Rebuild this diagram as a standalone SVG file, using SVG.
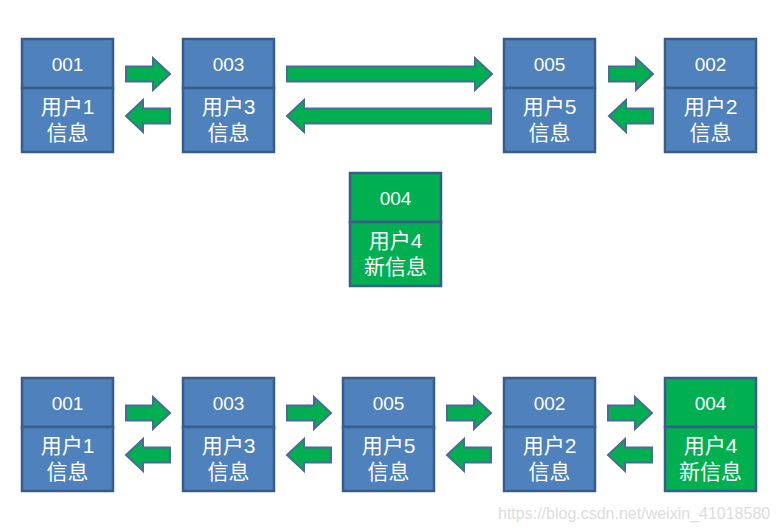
<svg xmlns="http://www.w3.org/2000/svg" width="779" height="530" viewBox="0 0 779 530">
<style>
.b{fill:#4F81BD;stroke:#385D8A;stroke-width:2.5}
.g{fill:#00B050;stroke:#385D8A;stroke-width:2.5}
.t{font-family:"Liberation Sans","Noto Sans CJK SC",sans-serif;fill:#fff;text-anchor:middle}
.id{font-size:19px}
.lb{font-size:21px}
.a{fill:#00B050;stroke:#4A6A9A;stroke-width:2;stroke-linejoin:miter}
.wm{font-family:"Liberation Sans",sans-serif;font-size:16px;fill:#DDDDDD}
</style>
<defs>
<path id="ar" class="a" d="M0,-7.5 H27 V-16 L44,0 L27,16 V7.5 H0 Z"/>
<path id="al" class="a" d="M44,-7.5 H17 V-16 L0,0 L17,16 V7.5 H44 Z"/>
</defs>
<rect width="779" height="530" fill="#fff"/>
<g id="connectors">
<use href="#ar" x="126" y="74"/>
<use href="#al" x="126" y="116"/>
<path class="a" d="M287,66.5 H475 V58 L492,74 L475,90 V81.5 H287 Z"/>
<path class="a" d="M491,108.5 H304 V100 L287,116 L304,132 V123.5 H491 Z"/>
<use href="#ar" x="609" y="74"/>
<use href="#al" x="609" y="116"/>
<use href="#ar" x="126" y="413"/>
<use href="#al" x="126" y="455"/>
<use href="#ar" x="287" y="413"/>
<use href="#al" x="287" y="455"/>
<use href="#ar" x="447" y="413"/>
<use href="#al" x="447" y="455"/>
<use href="#ar" x="608" y="413"/>
<use href="#al" x="608" y="455"/>
</g>
<g id="t001">
<rect class="b" x="22" y="39" width="91" height="49"/><rect class="b" x="22" y="88" width="91" height="64"/>
<text class="t id" x="67.5" y="71">001</text><text class="t lb" x="67.5" y="114">用户1</text><text class="t lb" x="67.5" y="140">信息</text>
</g>
<g id="t003">
<rect class="b" x="183" y="39" width="91" height="49"/><rect class="b" x="183" y="88" width="91" height="64"/>
<text class="t id" x="228.5" y="71">003</text><text class="t lb" x="228.5" y="114">用户3</text><text class="t lb" x="228.5" y="140">信息</text>
</g>
<g id="t005">
<rect class="b" x="504" y="39" width="91" height="49"/><rect class="b" x="504" y="88" width="91" height="64"/>
<text class="t id" x="549.5" y="71">005</text><text class="t lb" x="549.5" y="114">用户5</text><text class="t lb" x="549.5" y="140">信息</text>
</g>
<g id="t002">
<rect class="b" x="665" y="39" width="91" height="49"/><rect class="b" x="665" y="88" width="91" height="64"/>
<text class="t id" x="710.5" y="71">002</text><text class="t lb" x="710.5" y="114">用户2</text><text class="t lb" x="710.5" y="140">信息</text>
</g>
<g id="m004">
<rect class="g" x="350" y="173" width="91" height="49"/><rect class="g" x="350" y="222" width="91" height="64"/>
<text class="t id" x="395.5" y="205">004</text><text class="t lb" x="395.5" y="248">用户4</text><text class="t lb" x="395.5" y="274">新信息</text>
</g>
<g id="b001">
<rect class="b" x="22" y="378" width="91" height="49"/><rect class="b" x="22" y="427" width="91" height="64"/>
<text class="t id" x="67.5" y="410">001</text><text class="t lb" x="67.5" y="453">用户1</text><text class="t lb" x="67.5" y="479">信息</text>
</g>
<g id="b003">
<rect class="b" x="183" y="378" width="91" height="49"/><rect class="b" x="183" y="427" width="91" height="64"/>
<text class="t id" x="228.5" y="410">003</text><text class="t lb" x="228.5" y="453">用户3</text><text class="t lb" x="228.5" y="479">信息</text>
</g>
<g id="b005">
<rect class="b" x="343" y="378" width="91" height="49"/><rect class="b" x="343" y="427" width="91" height="64"/>
<text class="t id" x="388.5" y="410">005</text><text class="t lb" x="388.5" y="453">用户5</text><text class="t lb" x="388.5" y="479">信息</text>
</g>
<g id="b002">
<rect class="b" x="504" y="378" width="91" height="49"/><rect class="b" x="504" y="427" width="91" height="64"/>
<text class="t id" x="549.5" y="410">002</text><text class="t lb" x="549.5" y="453">用户2</text><text class="t lb" x="549.5" y="479">信息</text>
</g>
<g id="b004">
<rect class="g" x="665" y="378" width="91" height="49"/><rect class="g" x="665" y="427" width="91" height="64"/>
<text class="t id" x="710.5" y="410">004</text><text class="t lb" x="710.5" y="453">用户4</text><text class="t lb" x="710.5" y="479">新信息</text>
</g>
<text class="wm" x="498" y="519">https://blog.csdn.net/weixin_41018580</text>
</svg>
